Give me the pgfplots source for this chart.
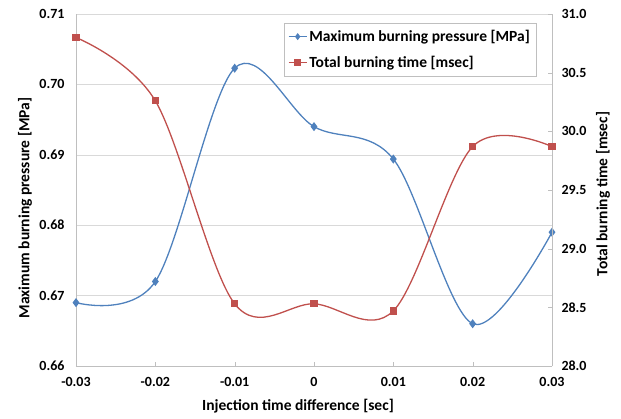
\documentclass[border=0pt]{standalone}
\usepackage{pgfplots}
\pgfplotsset{compat=1.18}
\usepackage{fontspec}
\setmainfont{Carlito}
\definecolor{xlblue}{HTML}{4F81BD}
\definecolor{xlred}{HTML}{C0504D}
\definecolor{gridgray}{HTML}{D9D9D9}
\definecolor{axgray}{HTML}{BFBFBF}

\pgfplotsset{
  every tick label/.append style={font=\bfseries\fontsize{14}{16}\selectfont, text=black},
  common/.style={
    scale only axis, width=476pt, height=352pt,
    xmin=-0.03, xmax=0.03,
    at={(0pt,0pt)}, anchor=south west,
    axis line style={axgray},
    label style={font=\bfseries\fontsize{15.5}{17}\selectfont},
    tick align=inside, major tick length=4pt,
    tick style={axgray},
    scaled ticks=false,
  },
}

\begin{document}
\begin{tikzpicture}
\path (-76pt,-52pt) rectangle (545pt,366pt);
\begin{axis}[common,
  ymin=0.66, ymax=0.71,
  ytick={0.66,0.67,0.68,0.69,0.70,0.71},
  yticklabels={0.66,0.67,0.68,0.69,0.70,0.71},
  yticklabel style={xshift=-8pt},
  xtick={-0.03,-0.02,-0.01,0,0.01,0.02,0.03},
  xticklabels={-0.03,-0.02,-0.01,0,0.01,0.02,0.03},
  xticklabel style={yshift=-8pt},
  ymajorgrids, major grid style={gridgray},
  ytick style={draw=none},
  axis y line*=left, axis x line*=bottom,
  xlabel={Injection time difference [sec]},
  ylabel={Maximum burning pressure [MPa]},
  ylabel style={at={(-51pt,158pt)}, anchor=center},
  xlabel style={at={(222pt,-40pt)}, anchor=center},
]
\addplot[color=xlblue, line width=1.3pt, smooth, tension=0.55, mark=diamond*, mark size=3.5pt, mark options={solid}] coordinates {
  (-0.03,0.669) (-0.02,0.672) (-0.01,0.7023) (0,0.694) (0.01,0.6894) (0.02,0.666) (0.03,0.679)
};
\end{axis}
\begin{axis}[common,
  ymin=28, ymax=31,
  ytick={28,28.5,29,29.5,30,30.5,31},
  yticklabels={28.0,28.5,29.0,29.5,30.0,30.5,31.0},
  yticklabel style={xshift=6pt},
  axis y line*=right, axis x line=none,
  ylabel={Total burning time [msec]},
  ylabel style={at={(527pt,172pt)}, anchor=center},
  legend style={at={(460pt,343pt)}, anchor=north east, draw=axgray, fill=white,
    font=\bfseries\fontsize{15.5}{17}\selectfont, row sep=9pt,
    inner xsep=4pt, inner ysep=5pt, cells={anchor=west}},
  legend image code/.code={
    \draw[#1, mark repeat=2, mark phase=2] plot coordinates {(0pt,0pt) (9pt,0pt) (18pt,0pt)};
  },
]
\addlegendimage{color=xlblue, line width=1.3pt, mark=diamond*, mark size=2.5pt}
\addlegendentry{Maximum burning pressure [MPa]}
\addplot[color=xlred, line width=1.3pt, smooth, tension=0.55, mark=square*, mark size=3pt] coordinates {
  (-0.03,30.80) (-0.02,30.26) (-0.01,28.53) (0,28.53) (0.01,28.47) (0.02,29.87) (0.03,29.87)
};
\addlegendentry{Total burning time [msec]}
\end{axis}
\end{tikzpicture}
\end{document}
